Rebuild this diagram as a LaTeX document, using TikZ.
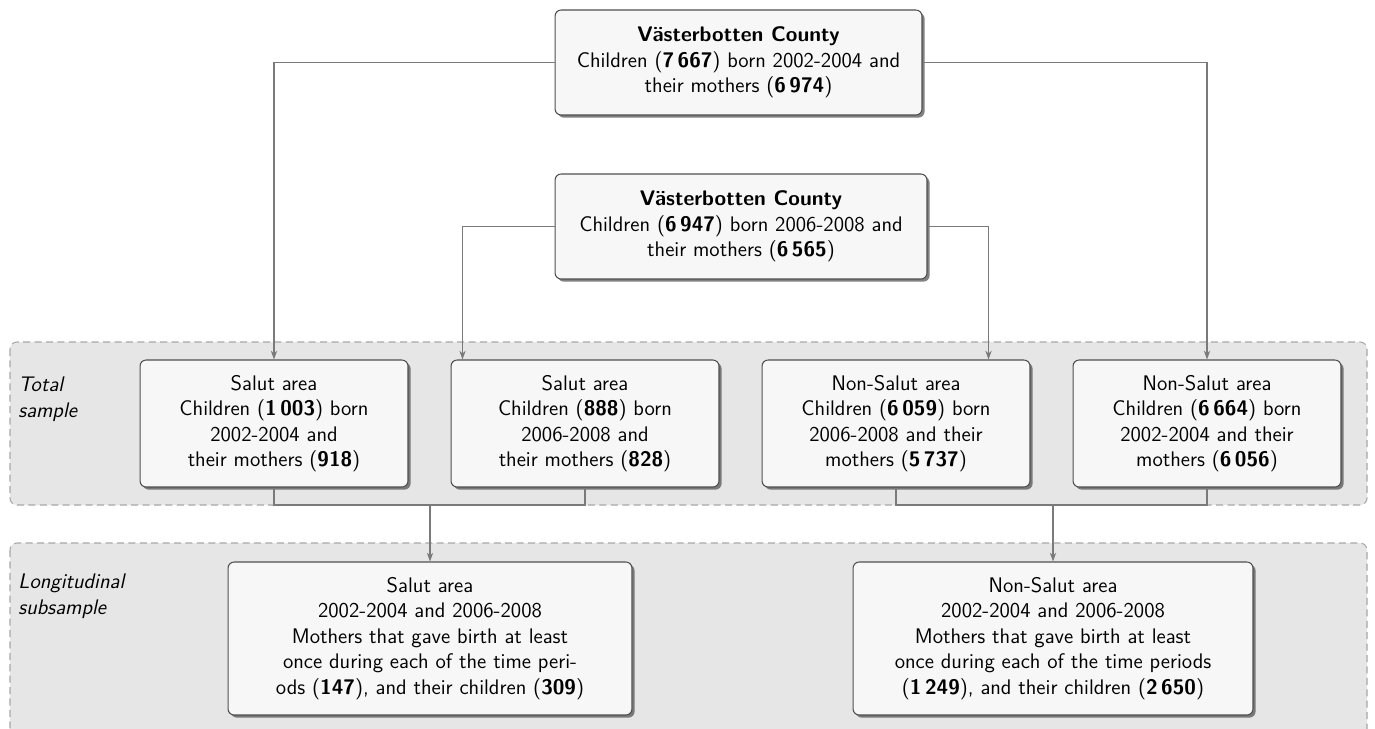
\documentclass[tikz,border=0pt]{standalone}
\usetikzlibrary{arrows.meta,shadows}
\definecolor{linec}{HTML}{7A7A7A}
\definecolor{boxfill}{HTML}{F7F7F7}
\definecolor{boxdraw}{HTML}{505050}
\definecolor{panelfill}{HTML}{E6E6E6}
\definecolor{paneldraw}{HTML}{A8A8A8}
\begin{document}
\begin{tikzpicture}[x=0.02cm,y=-0.02cm,
  box/.style={draw=boxdraw, fill=boxfill, rounded corners=3.5pt, line width=0.6pt,
    align=center, font=\sffamily\fontsize{12}{14.5}\selectfont, inner sep=0pt,
    drop shadow={shadow xshift=1.5pt, shadow yshift=-1.5pt, fill=black!70, opacity=0.7}},
  panel/.style={draw=paneldraw, fill=panelfill, dash pattern=on 4pt off 2.5pt,
    rounded corners=4pt, line width=0.6pt},
  conn/.style={draw=linec, line width=0.7pt},
  arr/.style={conn, -{Stealth[length=5pt,width=3.6pt]}},
  lbl/.style={align=left, font=\sffamily\itshape\fontsize{12}{14.5}\selectfont,
    inner sep=0pt, anchor=north west}
]
\useasboundingbox (0,0) rectangle (1375,729);
\fill[white] (0,0) rectangle (1375,729);

\path[panel] (10,342) rectangle (1367,505);
\path[panel] (10,543) rectangle (1367,770);

\node[lbl] (l1) at (18,377) {Total\\sample};
\node[lbl] (l2) at (18,574) {Longitudinal\\subsample};

\node[box, minimum width=7.34cm, minimum height=2.1cm] (top) at (738.5,62.5)
  {{\bfseries Västerbotten County}\\Children (\textbf{7\,667}) born 2002-2004 and\\their mothers (\textbf{6\,974})};
\node[box, minimum width=7.44cm, minimum height=2.1cm] (mid) at (741,226.5)
  {{\bfseries Västerbotten County}\\Children (\textbf{6\,947}) born 2006-2008 and\\their mothers (\textbf{6\,565})};

\node[box, minimum width=5.36cm, minimum height=2.54cm] (b1) at (274,423.5)
  {Salut area\\Children (\textbf{1\,003}) born\\2002-2004 and\\their mothers (\textbf{918})};
\node[box, minimum width=5.36cm, minimum height=2.54cm] (b2) at (585,423.5)
  {Salut area\\Children (\textbf{888}) born\\2006-2008 and\\their mothers (\textbf{828})};
\node[box, minimum width=5.36cm, minimum height=2.54cm] (b3) at (896,423.5)
  {Non-Salut area\\Children (\textbf{6\,059}) born\\2006-2008 and their\\mothers (\textbf{5\,737})};
\node[box, minimum width=5.36cm, minimum height=2.54cm] (b4) at (1207,423.5)
  {Non-Salut area\\Children (\textbf{6\,664}) born\\2002-2004 and their\\mothers (\textbf{6\,056})};

\node[box, minimum width=8.08cm, minimum height=3.06cm] (b5) at (430,638.5)
  {Salut area\\2002-2004 and 2006-2008\\Mothers that gave birth at least\\once during each of the time peri-\\ods (\textbf{147}), and their children (\textbf{309})};
\node[box, minimum width=8.0cm, minimum height=3.06cm] (b6) at (1053,638.5)
  {Non-Salut area\\2002-2004 and 2006-2008\\Mothers that gave birth at least\\once during each of the time periods\\(\textbf{1\,249}), and their children (\textbf{2\,650})};

\draw[arr] (top.west) -| (b1.north);
\draw[arr] (top.east) -| (b4.north);
\draw[arr] (mid.west) -| ([xshift=0.24cm]b2.north west);
\draw[arr] (mid.east) -| ([xshift=-0.84cm]b3.north east);

\coordinate (jy) at (0,505);
\draw[conn] (b1.south) -- (b1.south |- jy) -- (b2.south |- jy) -- (b2.south);
\draw[conn] (b3.south) -- (b3.south |- jy) -- (b4.south |- jy) -- (b4.south);
\draw[arr] (b5.north |- jy) -- (b5.north);
\draw[arr] (b6.north |- jy) -- (b6.north);
\end{tikzpicture}
\end{document}
